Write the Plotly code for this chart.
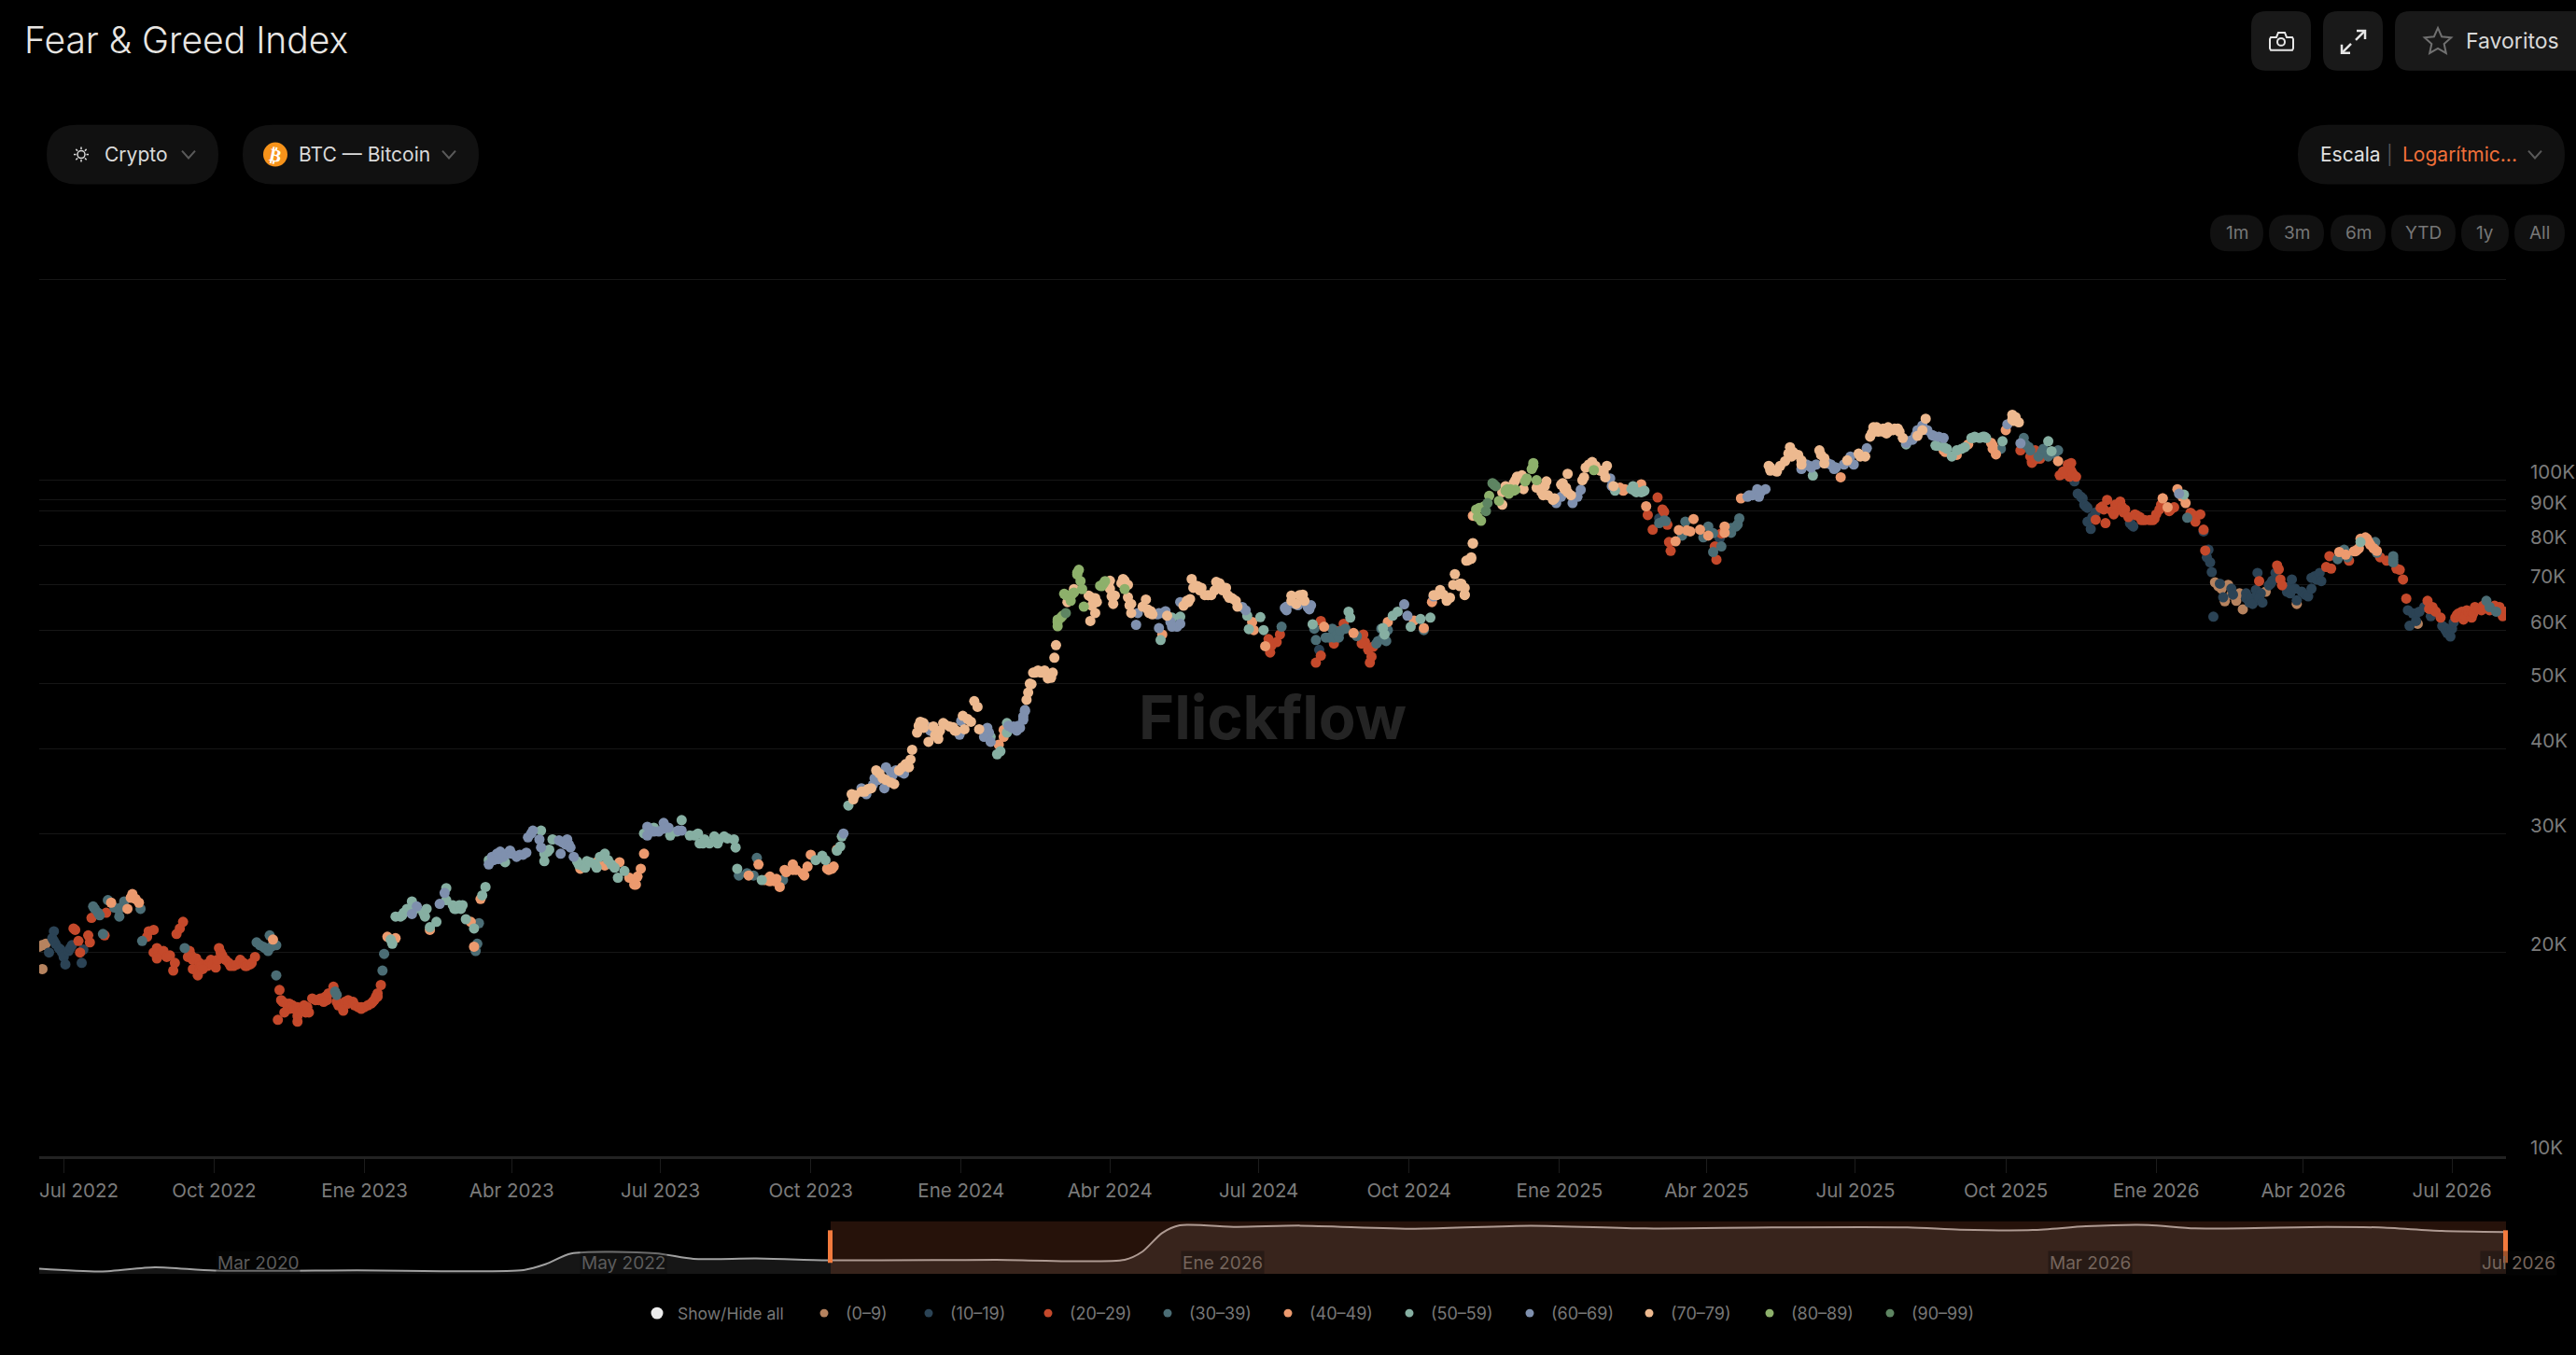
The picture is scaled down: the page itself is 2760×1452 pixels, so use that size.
import math
import pandas as pd
import plotly.graph_objects as go

W, H = 2760, 1452

# points are (days since 2022-07-01, price in thousands USD), one list per index bucket
points_0_9 = [(-13, 20.5), (-15, 20.4), (-11, 20.6), (-13, 18.9), (1316, 70.6), (1318, 69.7), (1320, 69.1), (1324, 70.0),
              (1322, 66.2), (1326, 67.7), (1329, 66.3), (1331, 68.0), (1333, 64.4), (1347, 68.4), (1366, 65.6), (1440, 61.3)]
points_10_19 = [(-6, 21.5), (-7, 21.0), (-6, 20.8), (-5, 20.6), (-3, 20.3), (-2, 20.2), (-1, 20.0), (0, 19.9), (0, 19.7), (1, 19.2), (-9, 20.0), (3, 20.1),
                (4, 20.3), (5, 20.5), (11, 19.3), (12, 20.2), (768, 56.1), (976, 87.8), (1013, 82.0),
                (1230, 99.6), (1232, 95.5), (1234, 94.5), (1235, 94.0), (1236, 92.0), (1237, 91.5), (1238, 91.0), (1238, 86.8), (1240, 84.7), (1241, 88.2), (1243, 89.6),
                (1264, 86.4), (1265, 85.9), (1266, 85.4), (1309, 84.0), (1312, 78.9), (1311, 76.9), (1313, 75.6), (1314, 73.1),
                (1315, 62.8), (1319, 70.3), (1321, 67.1), (1326, 69.1), (1327, 67.7), (1335, 68.0), (1335, 66.9), (1337, 65.9), (1338, 66.9),
                (1339, 65.6), (1341, 68.8), (1342, 72.9), (1342, 67.7), (1344, 68.0), (1343, 66.9), (1345, 65.9), (1349, 69.9), (1350, 70.3), (1351, 71.0),
                (1353, 72.9), (1360, 68.4), (1361, 69.5), (1362, 68.0), (1363, 71.3), (1365, 69.1), (1366, 66.4), (1369, 68.4), (1371, 67.7), (1373, 67.3),
                (1375, 69.1), (1375, 71.7), (1377, 72.1), (1378, 71.3), (1380, 72.9), (1381, 70.9), (1434, 64.2), (1437, 63.5), (1439, 63.5), (1441, 63.9),
                (1435, 60.9), (1439, 61.9), (1444, 64.9), (1448, 62.9), (1455, 60.9), (1456, 60.6), (1457, 60.0), (1458, 59.4), (1458, 60.3), (1459, 59.7),
                (1460, 58.7), (1461, 60.3), (1462, 61.6)]
points_20_29 = [(6, 21.7), (7, 21.6), (9, 20.8), (15, 21.2), (16, 20.7), (10, 20.0), (17, 22.5), (25, 21.2), (26, 22.9),
                (52, 21.5), (55, 21.6), (51, 21.1), (73, 22.2), (71, 21.7), (69, 21.3), (55, 20.0), (57, 20.3), (58, 20.0), (60, 19.9), (61, 20.1),
                (63, 19.7), (65, 19.8), (57, 19.6), (68, 19.3), (67, 18.8), (77, 20.1), (76, 19.7), (78, 19.8), (79, 19.5), (79, 18.9), (81, 19.6), (83, 19.3),
                (84, 19.1), (87, 19.2), (88, 19.1), (83, 18.8), (85, 18.9), (82, 18.5), (90, 19.5), (91, 19.2), (93, 19.0), (94, 19.5), (95, 20.3), (96, 20.0), (97, 19.8), (99, 19.5), (101, 19.3),
                (102, 19.1), (104, 19.1), (106, 19.2), (108, 19.5), (110, 19.3), (111, 19.1), (112, 19.1), (114, 19.2), (115, 19.3), (117, 19.7),
                (132, 17.6), (133, 17.0), (134, 16.9), (136, 16.8), (138, 16.5), (138, 16.8), (140, 16.7), (141, 16.5), (143, 16.6), (144, 16.5), (146, 16.4), (135, 16.3),
                (143, 16.1), (147, 16.7), (148, 16.3), (149, 16.6), (150, 16.3), (131, 15.9), (143, 15.8), (152, 17.1), (154, 17.0), (156, 17.0), (157, 17.1),
                (160, 17.2), (159, 16.9), (161, 17.0), (162, 17.4), (165, 17.8), (167, 16.9), (168, 16.7), (169, 16.7), (171, 16.4), (172, 16.9), (174, 16.8), (174, 17.0),
                (177, 16.9), (178, 16.7), (180, 16.6), (182, 16.5), (182, 16.6), (184, 16.6), (186, 16.7), (188, 16.8), (189, 16.9), (190, 17.0), (191, 17.2), (192, 17.4), (192, 17.2), (194, 17.9),
                (737, 58.2), (742, 57.6), (744, 59.1), (738, 55.6), (739, 57.0), (769, 61.9), (769, 55.0), (766, 53.7),
                (777, 57.3), (779, 59.8), (783, 61.3), (795, 59.1), (796, 57.6), (794, 57.3), (798, 56.1), (800, 54.8),
                (799, 53.7), (801, 56.7),
                (975, 94.3), (978, 90.5), (979, 89.8), (969, 88.8), (972, 84.5), (981, 85.9), (982, 81.0), (983, 78.6),
                (1014, 83.4), (1011, 76.3), (1010, 79.8),
                (1197, 110.7), (1203, 108.4), (1204, 106.1), (1204, 106.7), (1206, 107.4), (1208, 108.4), (1209, 107.6), (1206, 110.7), (1223, 103.0), (1223, 102.2), (1226, 105.5), (1226, 102.8),
                (1221, 101.7), (1227, 101.2), (1224, 102.8), (1228, 106.0), (1228, 103.3), (1229, 102.2), (1231, 101.2),
                (1246, 91.0), (1247, 91.4), (1250, 93.5), (1248, 90.5), (1253, 90.0), (1255, 92.0), (1258, 93.0), (1256, 90.5), (1254, 89.0), (1259, 91.4), (1260, 89.6), (1261, 90.5), (1263, 88.2),
                (1243, 87.4), (1249, 86.4), (1267, 89.0), (1268, 88.7), (1270, 88.2), (1271, 87.3), (1273, 87.3), (1276, 87.3), (1278, 87.3), (1279, 87.7), (1280, 89.0), (1282, 90.5), (1283, 92.0), (1284, 94.0),
                (1288, 90.0), (1289, 90.5), (1291, 91.2), (1301, 89.5), (1302, 89.0), (1304, 88.2), (1307, 89.0), (1304, 86.8), (1309, 84.5), (1310, 78.7),
                (1354, 74.8), (1355, 73.8), (1343, 70.9), (1356, 71.3), (1357, 69.9), (1386, 77.2), (1384, 74.4), (1387, 74.0),
                (1398, 76.0), (1417, 76.9), (1421, 76.0), (1427, 74.0), (1429, 73.7), (1431, 71.3), (1433, 66.8), (1446, 66.3),
                (1447, 64.5), (1449, 64.9), (1450, 64.2), (1451, 63.9), (1454, 62.6), (1463, 62.6), (1464, 63.2), (1465, 63.5), (1467, 63.9), (1468, 62.2), (1469, 62.9), (1470, 64.2), (1471, 63.9), (1473, 62.6),
                (1473, 63.9), (1474, 63.5), (1475, 64.9), (1477, 64.5), (1479, 64.2), (1480, 65.2), (1484, 64.2), (1487, 65.2), (1488, 64.5), (1490, 64.9), (1492, 62.9), (1493, 63.9), (1495, 63.5), (1497, 63.6)]
points_30_39 = [(18, 23.4), (19, 23.2), (21, 22.9), (22, 22.7), (27, 23.9), (24, 21.3), (31, 23.3), (33, 23.2), (34, 22.6), (35, 23.3), (37, 23.8), (47, 23.2), (48, 20.8),
                (74, 20.3), (118, 20.7), (120, 20.5), (122, 20.4), (123, 20.3), (125, 20.1), (126, 21.2), (127, 20.4), (130, 20.5), (130, 18.5), (166, 17.5), (167, 17.3),
                (196, 19.9), (195, 18.8), (254, 22.1), (253, 20.6), (252, 20.1),
                (424, 27.6), (413, 26.0), (418, 26.2), (422, 26.0), (440, 25.6),
                (745, 60.7), (765, 60.3), (766, 58.0), (772, 58.5), (776, 60.3), (774, 58.5), (777, 58.5), (779, 59.1), (780, 58.5), (781, 59.8), (784, 60.3), (791, 58.8),
                (803, 57.3), (804, 57.8), (806, 60.3), (807, 58.5), (809, 57.8), (810, 60.0), (832, 60.0),
                (976, 86.4), (979, 87.2), (980, 87.0), (992, 86.8), (1006, 85.4), (990, 82.8), (1003, 82.3), (1009, 83.5), (1025, 87.8),
                (1023, 85.4), (1024, 86.0), (1020, 83.6), (1020, 85.0), (1014, 79.8), (1009, 78.3),
                (1185, 111.3), (1199, 115.5), (1200, 113.0), (1202, 112.0), (1203, 110.7), (1208, 108.4), (1210, 110.0), (1211, 111.3), (1214, 108.4), (1218, 109.5), (1220, 110.7),
                (1299, 88.0), (1391, 76.4), (1395, 78.9), (1397, 76.9), (1415, 78.1), (1425, 77.2), (1425, 76.4), (1425, 75.6), (1414, 81.0),
                (1482, 66.3), (1484, 64.9), (1488, 63.9)]
points_40_49 = [(42, 24.4), (44, 24.0), (46, 23.7), (41, 24.1), (29, 23.7), (39, 23.2), (128, 20.9), (198, 21.1), (203, 21.0),
                (224, 21.6), (249, 22.2), (251, 20.4), (255, 24.0), (316, 26.6), (326, 27.2), (331, 26.9), (340, 27.2),
                (346, 25.8), (349, 25.2), (355, 28.0), (353, 26.6), (351, 25.9), (350, 25.2),
                (419, 26.0), (425, 27.0), (429, 25.6), (432, 25.5), (432, 25.9), (435, 25.5), (436, 25.7), (438, 25.0), (441, 26.5), (442, 26.3), (446, 27.0), (446, 26.5), (448, 26.5),
                (452, 26.2), (453, 26.0), (455, 26.8), (457, 27.9), (467, 26.6), (468, 26.5), (470, 26.6), (471, 26.8), (473, 28.4), (572, 40.6), (575, 42.7), (575, 41.7),
                (672, 59.1), (727, 61.7), (728, 60.0), (735, 56.8), (771, 60.7), (789, 59.4), (810, 61.7), (826, 62.0), (832, 60.4), (837, 66.0),
                (862, 88.6), (948, 97.8), (952, 97.5), (954, 96.5), (955, 97.0), (965, 98.6), (968, 91.5), (997, 87.6), (988, 84.4), (993, 84.3), (995, 84.0), (1001, 84.5),
                (1006, 82.8), (986, 81.2), (1016, 85.4), (1016, 83.6), (1026, 94.0), (1087, 101.0),
                (1150, 110.7), (1151, 110.1), (1158, 109.0), (1165, 113.0), (1179, 113.6), (1180, 112.6), (1180, 111.3), (1182, 109.2), (1188, 118.6), (1220, 106.7),
                (1284, 94.0), (1287, 91.2), (1293, 97.0), (1296, 94.5), (1298, 92.5), (1392, 78.3), (1396, 77.6), (1401, 78.5), (1402, 78.5),
                (1403, 78.9), (1404, 79.3), (1405, 81.9), (1408, 82.3), (1409, 81.9), (1410, 81.0), (1411, 80.2), (1413, 79.3), (1415, 78.6)]
points_50_59 = [(200, 20.9), (201, 20.6), (213, 23.8), (203, 22.6), (206, 22.6), (207, 22.7), (208, 22.9), (210, 23.2), (215, 23.2), (220, 22.9), (221, 22.6), (222, 23.2),
                (224, 21.8), (228, 22.2), (234, 24.9), (234, 23.9), (238, 23.5), (239, 23.2), (240, 23.2), (242, 23.5), (243, 23.2), (244, 23.5), (246, 22.4), (251, 21.7),
                (256, 24.3), (258, 25.0), (260, 27.4), (270, 27.2), (292, 30.3), (299, 29.4), (294, 28.0), (296, 28.2), (297, 28.4), (294, 27.3),
                (314, 27.3), (315, 27.0), (317, 26.9), (320, 27.3), (319, 26.7), (322, 27.2), (325, 27.0), (326, 26.7), (328, 27.7), (331, 28.0), (333, 27.4), (335, 27.0), (337, 26.7), (343, 26.4), (339, 25.8),
                (355, 30.0), (361, 30.6), (371, 29.8), (375, 30.2), (378, 31.4), (383, 29.8), (386, 29.8), (388, 30.0), (389, 29.0), (391, 29.0), (392, 29.4), (395, 29.0), (398, 29.7),
                (400, 29.0), (401, 29.4), (404, 29.7), (406, 29.5), (410, 29.4), (411, 28.6), (412, 26.6), (427, 25.6), (460, 27.4), (464, 27.8), (466, 27.4),
                (473, 28.3), (475, 28.7), (476, 29.7), (480, 33.0), (567, 41.7), (571, 39.3), (573, 39.7), (577, 42.3), (577, 43.7),
                (671, 58.0), (678, 62.6), (683, 62.8), (725, 60.2), (724, 63.0), (732, 62.7), (734, 60.0), (764, 61.2), (786, 63.9),
                (787, 62.6), (807, 60.4), (808, 59.1), (813, 63.0), (816, 63.9), (824, 60.7), (830, 62.3), (836, 62.6),
                (949, 96.5), (959, 97.0), (960, 98.0), (961, 96.5), (962, 96.0), (965, 96.0), (966, 96.2), (967, 96.5), (1070, 101.6), (1084, 104.4), (1127, 113.0),
                (1145, 112.6), (1146, 112.4), (1150, 112.0), (1152, 111.3), (1155, 108.4), (1158, 110.7), (1161, 111.3), (1163, 111.9), (1167, 115.5), (1168, 115.5), (1169, 116.0),
                (1172, 115.5), (1174, 116.0), (1175, 116.0), (1176, 115.5), (1186, 114.2), (1214, 114.2), (1216, 110.4), (1297, 95.2), (1405, 81.0)]
points_60_69 = [(216, 23.4), (213, 22.8), (230, 23.6), (233, 24.5), (260, 27.0), (262, 27.7), (265, 28.0), (263, 27.4), (266, 27.5), (267, 28.2), (269, 27.7), (271, 28.0), (273, 28.3),
                (274, 28.0), (277, 27.7), (279, 27.9), (281, 27.9), (283, 28.1), (284, 29.6), (286, 30.0), (287, 30.3), (291, 29.4), (292, 28.6), (303, 29.3), (305, 29.1), (307, 28.9), (308, 29.4), (309, 28.9), (304, 28.0),
                (310, 28.6), (312, 27.7), (357, 30.7), (357, 29.8), (359, 30.3), (361, 30.2), (364, 30.2), (367, 31.1), (367, 30.5), (370, 30.6), (376, 30.3), (378, 30.3), (477, 30.0),
                (488, 35.0), (489, 34.6), (491, 34.3), (495, 35.4), (496, 36.2), (498, 36.0), (502, 35.0), (503, 37.6), (506, 37.0), (507, 36.6), (509, 37.2), (512, 37.0), (514, 36.8),
                (529, 43.1), (530, 42.6), (549, 44.0), (548, 42.0), (565, 43.0), (566, 42.3), (563, 41.7), (567, 41.0), (580, 43.0), (581, 43.2), (583, 42.6), (585, 43.0),
                (587, 44.7), (588, 45.7), (578, 43.3), (581, 43.0), (583, 43.0), (584, 43.3), (588, 45.5), (587, 44.2), (656, 61.1), (657, 63.6), (669, 63.3), (670, 63.6),
                (670, 60.4), (672, 63.6), (674, 64.0), (677, 61.7), (678, 60.7), (681, 60.7), (683, 61.3), (683, 66.0), (721, 64.9), (723, 64.2), (748, 64.2), (748, 65.0), (747, 64.7), (753, 65.6), (755, 65.3),
                (761, 64.9), (762, 64.4), (763, 65.3), (820, 65.5), (822, 63.0), (838, 67.3), (913, 92.5), (916, 94.5), (923, 92.5), (928, 96.8),
                (926, 94.5), (946, 100.6), (947, 98.0), (1030, 94.5), (1031, 95.0), (1033, 95.0), (1036, 97.0), (1037, 94.5), (1038, 96.0), (1041, 97.0), (1066, 105.5), (1068, 105.0), (1069, 104.4),
                (1072, 105.5), (1063, 103.9), (1079, 106.0), (1081, 105.5), (1083, 103.9), (1084, 104.4), (1089, 105.5), (1092, 107.0), (1093, 108.4), (1095, 105.5), (1103, 111.5),
                (1127, 113.6), (1128, 114.2), (1131, 114.8), (1133, 116.6), (1134, 118.6), (1137, 120.5), (1140, 118.6), (1143, 116.6), (1144, 116.3), (1147, 116.0), (1150, 115.5), (1197, 113.4), (1189, 121.0), (1294, 95.5)]
points_70_79 = [(482, 34.3), (483, 33.7), (484, 34.2), (488, 34.6), (490, 34.6), (492, 34.9), (494, 35.0), (497, 37.2), (499, 36.8), (501, 36.2), (503, 36.0), (506, 35.7), (508, 35.5), (511, 37.2), (513, 37.6),
                (515, 38.0), (517, 37.6), (518, 38.6), (519, 39.9), (522, 42.3), (523, 43.3), (524, 43.9), (526, 43.7), (526, 43.0), (529, 41.0), (532, 43.2), (533, 41.9), (535, 42.2),
                (535, 41.4), (536, 42.6), (538, 43.7), (539, 43.5), (542, 43.2), (544, 43.1), (545, 42.6), (546, 42.6), (551, 42.8), (550, 44.8), (553, 44.3), (555, 43.9), (560, 42.8), (557, 47.1),
                (559, 46.2), (589, 47.3), (590, 48.5), (591, 50.0), (592, 49.9), (593, 51.9), (594, 51.9), (595, 52.0), (596, 52.3), (597, 52.0), (598, 51.9), (599, 52.0), (600, 52.3), (601, 51.9),
                (602, 50.9), (604, 51.0), (605, 51.9), (606, 54.6), (607, 57.0), (614, 66.0), (618, 69.0), (628, 61.9), (631, 63.6), (629, 65.2), (629, 67.0),
                (627, 67.5), (631, 66.9), (632, 66.0), (639, 70.0), (640, 71.0), (640, 69.1), (641, 67.3), (642, 65.6), (643, 67.5), (647, 70.4), (648, 71.4), (649, 71.0), (651, 70.0), (651, 67.1),
                (652, 65.3), (653, 63.6), (653, 65.6), (662, 66.6), (660, 65.0), (663, 64.4), (664, 63.6), (665, 64.0), (666, 63.3), (675, 63.0), (685, 65.2), (687, 66.3), (688, 66.0),
                (689, 66.7), (690, 71.4), (691, 69.3), (693, 69.8), (694, 69.6), (695, 68.7), (696, 69.3), (698, 67.6), (700, 67.6), (702, 67.6), (704, 68.7), (705, 70.7), (707, 70.4), (708, 69.7),
                (709, 68.7), (711, 69.3), (712, 67.6), (713, 67.0), (714, 67.0), (715, 66.8), (717, 66.3), (718, 65.0), (751, 67.5), (751, 66.3), (754, 65.6), (756, 67.6), (758, 67.7), (759, 66.3),
                (838, 67.6), (840, 67.6), (842, 68.8), (844, 67.7), (846, 66.3), (848, 67.0), (850, 70.0), (851, 72.6), (854, 69.7), (855, 70.3), (857, 69.3), (857, 67.6), (858, 76.0),
                (861, 76.5), (862, 80.7), (854, 70.3), (857, 67.7), (859, 76.1), (861, 76.9), (862, 80.6), (863, 88.6),
                (880, 92.0), (880, 96.0), (882, 98.0), (887, 99.0), (888, 100.0), (889, 101.2), (892, 101.7), (893, 97.0), (901, 97.5), (904, 96.0), (906, 98.0), (907, 99.6), (905, 95.0), (908, 95.0), (911, 93.5), (912, 94.0),
                (916, 98.5), (917, 99.0), (918, 97.0), (919, 97.5), (920, 96.0), (922, 95.0), (920, 102.2), (929, 100.0), (930, 101.0), (931, 104.4), (933, 105.5), (935, 106.4), (937, 105.0), (940, 103.3), (942, 102.8), (943, 101.0), (944, 105.0),
                (948, 98.0), (1044, 103.3), (1044, 104.4), (1043, 105.0), (1047, 103.3), (1048, 103.0), (1050, 105.0), (1053, 106.7), (1055, 109.5), (1056, 111.9), (1057, 108.4), (1058, 110.0), (1061, 109.0),
                (1063, 105.5), (1063, 107.0), (1074, 110.7), (1075, 109.0), (1077, 107.8), (1077, 105.9), (1091, 107.0), (1098, 109.5), (1099, 108.4), (1102, 108.4), (1105, 116.0), (1106, 117.3),
                (1107, 118.6), (1107, 119.8), (1109, 119.8), (1110, 118.0), (1113, 118.0), (1113, 119.2), (1116, 119.8), (1116, 118.0), (1115, 117.3), (1119, 118.6), (1120, 119.2), (1122, 119.2), (1123, 118.0),
                (1125, 115.5), (1134, 116.3), (1139, 123.3), (1137, 118.6), (1192, 125.0), (1192, 123.0), (1193, 122.4), (1196, 121.8), (1194, 124.0)]
points_80_89 = [(621, 73.7), (620, 72.5), (620, 73.0), (622, 70.9), (623, 69.0), (612, 67.9), (613, 67.6), (616, 66.3), (617, 67.9), (618, 68.2), (624, 65.0), (634, 69.8), (635, 69.7), (636, 70.3), (637, 70.9),
                (649, 69.0), (608, 61.7), (608, 62.2), (610, 62.6), (611, 63.0), (608, 60.8), (864, 90.5), (865, 88.2), (866, 91.0), (867, 87.1), (869, 91.5), (872, 94.8), (878, 93.2),
                (882, 96.5), (883, 97.0), (884, 95.5), (885, 97.0), (887, 96.5), (888, 96.8), (894, 99.6), (895, 100.6), (898, 103.9), (899, 105.0), (899, 106.0), (901, 100.0), (936, 103.5)]
points_90_99 = [(613, 63.6), (870, 90.0), (871, 92.5), (874, 99.0), (875, 98.5), (876, 98.0)]

bucket_points = [points_0_9, points_10_19, points_20_29, points_30_39, points_40_49,
                 points_50_59, points_60_69, points_70_79, points_80_89, points_90_99]
bucket_names = ["(0–9)", "(10–19)", "(20–29)", "(30–39)", "(40–49)", "(50–59)", "(60–69)", "(70–79)", "(80–89)", "(90–99)"]
bucket_colors = ["#B6835F", "#2B4355", "#C4492B", "#4B6D75", "#EC9A6E", "#86AFA2", "#7F90AE", "#EDB98F", "#8DB06B", "#5E8562"]

x_tick_dates = ["2022-07-01", "2022-10-01", "2023-01-01", "2023-04-01", "2023-07-01", "2023-10-01", "2024-01-01", "2024-04-01",
                "2024-07-01", "2024-10-01", "2025-01-01", "2025-04-01", "2025-07-01", "2025-10-01", "2026-01-01", "2026-04-01", "2026-07-01"]
x_tick_labels = ["Jul 2022", "Oct 2022", "Ene 2023", "Abr 2023", "Jul 2023", "Oct 2023", "Ene 2024", "Abr 2024",
                 "Jul 2024", "Oct 2024", "Ene 2025", "Abr 2025", "Jul 2025", "Oct 2025", "Ene 2026", "Abr 2026", "Jul 2026"]
y_tick_values = [10000, 20000, 30000, 40000, 50000, 60000, 70000, 80000, 90000, 100000]
y_tick_labels = ["10K", "20K", "30K", "40K", "50K", "60K", "70K", "80K", "90K", "100K"]
y_grid_values = [10000, 20000, 30000, 40000, 50000, 60000, 70000, 80000, 90000, 93700, 100000, 198000]

# navigator overview line, position along the strip and height of the line
nav_pos = [0, 66, 124, 188, 340, 519, 543, 570, 660, 701, 768, 845, 958, 1025, 1163, 1182, 1203, 1222, 1283, 1351, 1474, 1598,
           1721, 1856, 2002, 2058, 2136, 2193, 2260, 2310, 2451, 2507, 2574, 2643]
nav_height = [5.7, 2.7, 7.3, 3.7, 4.0, 4.3, 10.7, 22.0, 22.3, 16.3, 16.7, 14.7, 15.0, 15.2, 15.3, 24.0, 44.0, 52.3, 50.7, 52.0, 48.7, 52.0,
              49.0, 50.0, 50.0, 47.7, 47.3, 51.3, 52.7, 49.0, 50.7, 50.0, 46.3, 45.0]
nav_labels = ["Mar 2020", "May 2022", "Ene 2026", "Mar 2026", "Jul 2026"]
nav_label_x = [276, 668, 1310, 2239, 2698]

legend_x = [883, 995, 1123, 1251, 1380, 1510, 1639, 1767, 1896, 2025]


def fx(x):
    return x / W


def fy(y):
    return 1 - y / H


def pt(x, y):
    return f"{fx(x):.5f},{fy(y):.5f}"


def path_shape(points, closed=False, fill=None, line=None, width=2):
    d = "M" + " L".join(pt(x, y) for x, y in points) + (" Z" if closed else "")
    return dict(type="path", xref="paper", yref="paper", path=d, fillcolor=fill or "rgba(0,0,0,0)",
                line=dict(color=line or "rgba(0,0,0,0)", width=width))


def pill(x0, y0, x1, y1, r, fill):
    d = (f"M{pt(x0 + r, y0)} L{pt(x1 - r, y0)} Q{pt(x1, y0)} {pt(x1, y0 + r)} L{pt(x1, y1 - r)} "
         f"Q{pt(x1, y1)} {pt(x1 - r, y1)} L{pt(x0 + r, y1)} Q{pt(x0, y1)} {pt(x0, y1 - r)} "
         f"L{pt(x0, y0 + r)} Q{pt(x0, y0)} {pt(x0 + r, y0)} Z")
    return dict(type="path", xref="paper", yref="paper", path=d, fillcolor=fill, line=dict(width=0))


def dot(x, y, r, fill, line=None, width=2):
    return dict(type="circle", xref="paper", yref="paper", x0=fx(x - r), x1=fx(x + r), y0=fy(y + r), y1=fy(y - r),
                fillcolor=fill, line=dict(color=line or "rgba(0,0,0,0)", width=width if line else 0))


def label(text, x, y, size, color, anchor="left", weight=None, family="Inter", **kw):
    return dict(text=text, x=fx(x), y=fy(y), xref="paper", yref="paper", xanchor=anchor, yanchor="middle", showarrow=False,
                font=dict(family=family, size=size, color=color, weight=weight), **kw)


def chevron(x, y):
    return path_shape([(x - 7, y - 4), (x, y + 4), (x + 7, y - 4)], line="#5a5a5a", width=2)


fig = go.Figure()
start = pd.Timestamp("2022-07-01")
for name, color, points in zip(bucket_names, bucket_colors, bucket_points):
    fig.add_trace(go.Scatter(
        x=[start + pd.Timedelta(days=p[0]) for p in points],
        y=[p[1] * 1000 for p in points],
        mode="markers", name=name, showlegend=False, hoverinfo="skip",
        marker=dict(color=color, size=11, line=dict(width=0)),
    ))

# holds the right hand axis, whose labels sit a little above the grid lines
fig.add_trace(go.Scatter(x=[start], y=[10000], yaxis="y2", mode="markers", showlegend=False,
                         hoverinfo="skip", marker=dict(opacity=0)))

fig.add_trace(go.Scatter(x=nav_pos, y=nav_height, xaxis="x2", yaxis="y3", mode="lines", showlegend=False, hoverinfo="skip",
                         line=dict(color="#a0a0a0", width=2, shape="spline", smoothing=0.7),
                         fill="tozeroy", fillcolor="#161616"))

shapes = [
    pill(50, 134, 234, 198, 32, "#111111"),
    pill(260, 134, 513, 198, 32, "#111111"),
    pill(2462, 134, 2748, 198, 32, "#111111"),
    pill(2412, 12, 2476, 76, 16, "#191919"),
    pill(2489, 12, 2553, 76, 16, "#191919"),
    pill(2566, 12, 2800, 76, 16, "#191919"),
    chevron(202, 166), chevron(481, 166), chevron(2716, 166),
    dot(87, 166, 4, "rgba(0,0,0,0)", line="#dddddd", width=1.5),
    dot(295, 166, 13, "#F7931A"),
    # camera
    path_shape([(2433, 40), (2439, 40), (2441, 35), (2448, 35), (2450, 40), (2456, 40), (2457, 42), (2457, 52), (2456, 54),
                (2433, 54), (2432, 52), (2432, 42)], closed=True, line="#e6e6e6", width=2),
    dot(2444, 45, 4, "rgba(0,0,0,0)", line="#e6e6e6", width=2),
    # expand arrows
    path_shape([(2524, 43), (2534, 33)], line="#e6e6e6", width=2.5),
    path_shape([(2525, 33), (2534, 33), (2534, 42)], line="#e6e6e6", width=2.5),
    path_shape([(2519, 47), (2509, 57)], line="#e6e6e6", width=2.5),
    path_shape([(2509, 48), (2509, 57), (2518, 57)], line="#e6e6e6", width=2.5),
    # navigator window and handles
    dict(type="rect", xref="x2", yref="y3", x0=848, x1=2643, y0=0, y1=57, fillcolor="rgba(255,120,70,0.15)", line=dict(width=0), layer="above"),
    dict(type="rect", xref="paper", yref="paper", x0=fx(887), x1=fx(892), y0=fy(1357), y1=fy(1322), fillcolor="#F27A3D", line=dict(width=0)),
    dict(type="rect", xref="paper", yref="paper", x0=fx(2682), x1=fx(2687), y0=fy(1357), y1=fy(1322), fillcolor="#F27A3D", line=dict(width=0)),
    dot(704, 1411, 6.5, "#EDEDED"),
]

# sun rays on the Crypto pill
for i in range(8):
    a = i * math.pi / 4
    shapes.append(path_shape([(87 + 5.5 * math.cos(a), 166 + 5.5 * math.sin(a)), (87 + 8 * math.cos(a), 166 + 8 * math.sin(a))], line="#dddddd", width=1.5))

# favourites star
star = []
for i in range(10):
    r = 15 if i % 2 == 0 else 7
    a = -math.pi / 2 + i * math.pi / 5
    star.append((2612 + r * math.cos(a), 45 + r * math.sin(a)))
shapes.append(path_shape(star, closed=True, line="#707070", width=2))

range_buttons = [("1m", 2368, 2425), ("3m", 2431, 2490), ("6m", 2497, 2556), ("YTD", 2562, 2631), ("1y", 2637, 2688), ("All", 2694, 2748)]
for _, x0, x1 in range_buttons:
    shapes.append(pill(x0, 231, x1, 270, 19.5, "#111111"))

for x, color in zip(legend_x, bucket_colors):
    shapes.append(dot(x, 1411, 4.5, color))

annotations = [
    label("Fear & Greed Index", 24, 43, 39, "#E8E6E3", weight=300),
    label("Crypto", 110, 166, 21, "#DADADA"),
    label("BTC — Bitcoin", 318, 166, 21, "#DADADA"),
    label("₿", 295, 166, 19, "#FFFFFF", anchor="center", family="DejaVu Sans", weight=700, textangle=12),
    label("Favoritos", 2640, 44, 23, "#D8D8D8"),
    label("Escala", 2484, 166, 21, "#E0E0E0"),
    label("|", 2560, 166, 20, "#555555", anchor="center"),
    label("Logarítmic...", 2572, 166, 21, "#F0703A"),
    label("Show/Hide all", 724, 1411, 17.5, "#777777"),
    label("Jul 2022", 40, 1279, 20.5, "#7b7b7b"),
    # watermark
    label("Flickflow", 1363, 771, 65, "#242424", anchor="center", weight=700),
]
for text, x0, x1 in range_buttons:
    annotations.append(label(text, (x0 + x1) / 2, 250.5, 19, "#777777", anchor="center"))
for text, x in zip(bucket_names, legend_x):
    annotations.append(label(text, x + 21, 1411, 18, "#777777"))
for text, x in zip(nav_labels, nav_label_x):
    annotations.append(label(text, x, 1357, 19, "#5c5c5c" if x < 890 else "#75655c", anchor="center", bgcolor="rgba(10,10,10,0.35)"))

fig.update_layout(
    width=W, height=H,
    margin=dict(l=0, r=0, t=0, b=0),
    paper_bgcolor="#000000", plot_bgcolor="#000000",
    font=dict(family="Inter", color="#7b7b7b"),
    hovermode=False, showlegend=False,
    shapes=shapes, annotations=annotations,
    xaxis=dict(
        type="date", domain=[fx(42), fx(2685)], range=["2022-06-16", "2026-08-03"],
        tickmode="array", tickvals=x_tick_dates, ticktext=[""] + x_tick_labels[1:],
        showgrid=False, zeroline=False, showline=True, linecolor="#222222", linewidth=3,
        ticks="outside", ticklen=15, tickwidth=1, tickcolor="#1c1c1c",
        tickfont=dict(family="Inter", size=20.5, color="#7b7b7b"), ticklabelstandoff=2, anchor="y",
    ),
    yaxis=dict(
        type="log", domain=[fy(1242), fy(298.2)], range=[4, 5.3],
        tickmode="array", tickvals=y_grid_values, showticklabels=False, ticks="",
        showgrid=True, gridcolor="#161616", gridwidth=1, zeroline=False, showline=False, anchor="x",
    ),
    yaxis2=dict(
        type="log", domain=[fy(1242), fy(298.2)], range=[3.9883, 5.2883], overlaying="y", side="right", anchor="x",
        tickmode="array", tickvals=y_tick_values, ticktext=y_tick_labels, showgrid=False, zeroline=False, showline=False,
        ticks="", tickfont=dict(family="Inter", size=20.5, color="#7b7b7b"), ticklabelstandoff=25,
    ),
    xaxis2=dict(domain=[fx(42), fx(2685)], range=[0, 2643], visible=False, anchor="y3"),
    yaxis3=dict(domain=[fy(1369), fy(1312)], range=[0, 57], visible=False, anchor="x2"),
)

fig.write_html("out.html", config=dict(displayModeBar=False),
               post_script="document.body.style.margin='0';document.body.style.background='#000';")
